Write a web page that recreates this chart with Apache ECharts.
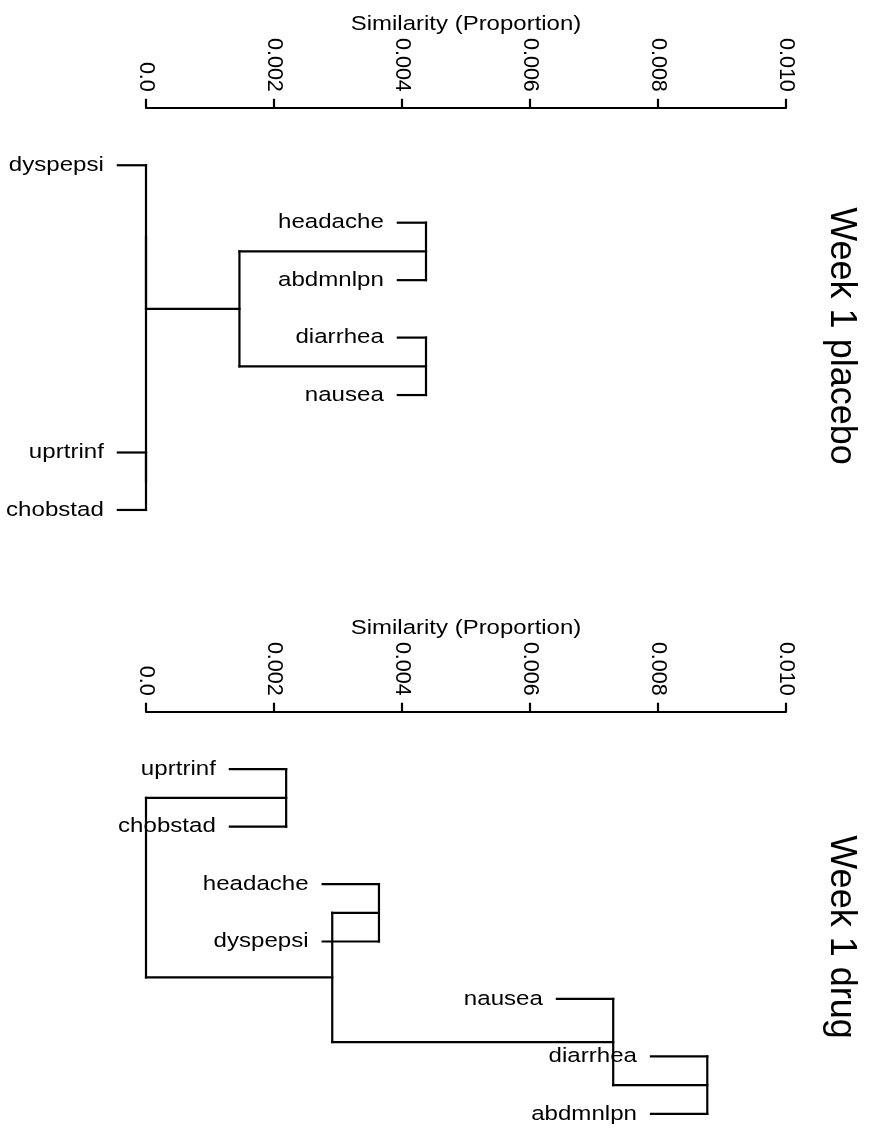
<!DOCTYPE html>
<html><head><meta charset="utf-8">
<script src="https://cdn.jsdelivr.net/npm/echarts@6/dist/echarts.min.js"></script>
<style>html,body{margin:0;padding:0;background:#fff}#c{width:872px;height:1132px}</style>
</head><body><div id="c"></div>
<script>
// ---- data ----
const tickValues = [0, 0.002, 0.004, 0.006, 0.008, 0.010];
const tickLabels = ['0.0', '0.002', '0.004', '0.006', '0.008', '0.010'];
const axisTitle = 'Similarity (Proportion)';
const placeboTitle = 'Week 1 placebo';
const drugTitle = 'Week 1 drug';

// leaf order top -> bottom
const placeboLeaves = ['dyspepsi', 'headache', 'abdmnlpn', 'diarrhea', 'nausea', 'uprtrinf', 'chobstad'];
// merges: [childA, childB, height]; string = leaf, number = index of an earlier merge
const placeboMerges = [
  ['headache', 'abdmnlpn', 0.004375],
  ['diarrhea', 'nausea', 0.004375],
  [0, 1, 0.00146],
  ['uprtrinf', 'chobstad', 0],
  ['dyspepsi', 2, 0],
  [4, 3, 0]
];
const placeboHang = 0.00044;

const drugLeaves = ['uprtrinf', 'chobstad', 'headache', 'dyspepsi', 'nausea', 'diarrhea', 'abdmnlpn'];
const drugMerges = [
  ['uprtrinf', 'chobstad', 0.00219],
  ['headache', 'dyspepsi', 0.00364],
  ['diarrhea', 'abdmnlpn', 0.00877],
  ['nausea', 2, 0.0073],
  [1, 3, 0.00291],
  [0, 4, 0]
];
const drugHang = 0.00088;

// ---- dendrogram layout (segments in data units) ----
function layout(leaves, merges, hang) {
  const segs = [], labels = [], names = [], nodeY = [];
  const posOf = c => typeof c === 'string' ? leaves.indexOf(c) + 1 : nodeY[c];
  merges.forEach((m, i) => {
    const [a, b, h] = m;
    const ya = posOf(a), yb = posOf(b);
    nodeY[i] = (ya + yb) / 2;
    segs.push([h, ya, h, yb]);
    [a, b].forEach(c => {
      const yc = posOf(c);
      if (typeof c === 'string') {
        segs.push([h, yc, h - hang, yc]);
        labels.push([h - hang, yc]);
        names.push(c);
      } else {
        segs.push([h, yc, merges[c][2], yc]);
      }
    });
  });
  return { segs, labels, names };
}

const P = layout(placeboLeaves, placeboMerges, placeboHang);
const D = layout(drugLeaves, drugMerges, drugHang);
const FONT = '"Liberation Sans", Arial, Helvetica, sans-serif';
const GRID_TOPS = [107.8, 711.7];
const SPACING = 57.45;
const LW = 2.2;

function xAxisCfg(gridIndex) {
  return {
    gridIndex, type: 'value', position: 'top',
    min: tickValues[0], max: tickValues[tickValues.length - 1], interval: 0.002,
    axisLine: { show: true, onZero: false, lineStyle: { color: '#000', width: LW } },
    axisTick: { show: true, length: 9, lineStyle: { color: '#000', width: LW } },
    axisLabel: {
      show: true, rotate: 90, margin: 16, fontSize: 21.5, fontFamily: FONT, color: '#000',
      showMinLabel: true, showMaxLabel: true, hideOverlap: false,
      formatter: v => { const i = tickValues.findIndex(t => Math.abs(t - v) < 1e-9); return i >= 0 ? tickLabels[i] : ''; }
    },
    splitLine: { show: false }
  };
}
function yAxisCfg(gridIndex) {
  return { gridIndex, type: 'value', min: 0, max: 7.5, inverse: true, show: false };
}
function segSeries(idx, segs) {
  return {
    type: 'custom', xAxisIndex: idx, yAxisIndex: idx, clip: false, silent: true, animation: false,
    dimensions: ['x1', 'y1', 'x2', 'y2'], encode: { x: [0, 2], y: [1, 3] }, data: segs,
    renderItem: (params, api) => {
      const a = api.coord([api.value(0), api.value(1)]);
      const b = api.coord([api.value(2), api.value(3)]);
      return { type: 'line', shape: { x1: a[0], y1: a[1], x2: b[0], y2: b[1] },
        style: { stroke: '#000', lineWidth: LW, lineCap: 'square' } };
    }
  };
}
function labelSeries(idx, L) {
  return {
    type: 'custom', xAxisIndex: idx, yAxisIndex: idx, clip: false, silent: true, animation: false,
    dimensions: ['x', 'y'], encode: { x: 0, y: 1 }, data: L.labels,
    renderItem: (params, api) => {
      const p = api.coord([api.value(0), api.value(1)]);
      return { type: 'text', x: p[0] - 14, y: p[1], scaleX: 1.175,
        style: { text: L.names[params.dataIndex], align: 'right', verticalAlign: 'middle',
          fontSize: 20.5, fontFamily: FONT, fill: '#000' } };
    }
  };
}

const chart = echarts.init(document.getElementById('c'), null, { renderer: 'canvas' });
chart.setOption({
  backgroundColor: '#fff',
  animation: false,
  grid: GRID_TOPS.map(t => ({ left: 146, right: 86, top: t, height: 7.5 * SPACING, containLabel: false, outerBoundsMode: 'none' })),
  xAxis: [xAxisCfg(0), xAxisCfg(1)],
  yAxis: [yAxisCfg(0), yAxisCfg(1)],
  series: [segSeries(0, P.segs), labelSeries(0, P), segSeries(1, D.segs), labelSeries(1, D)],
  graphic: [
    { type: 'text', x: 466, y: GRID_TOPS[0] - 83, scaleX: 1.17, silent: true,
      style: { text: axisTitle, align: 'center', verticalAlign: 'middle', fontSize: 20.5, fontFamily: FONT, fill: '#000' } },
    { type: 'text', x: 466, y: GRID_TOPS[1] - 83, scaleX: 1.17, silent: true,
      style: { text: axisTitle, align: 'center', verticalAlign: 'middle', fontSize: 20.5, fontFamily: FONT, fill: '#000' } },
    { type: 'text', x: 841, y: 336, rotation: -Math.PI / 2, silent: true,
      style: { text: placeboTitle, align: 'center', verticalAlign: 'middle', fontSize: 36, fontFamily: FONT, fill: '#000' } },
    { type: 'text', x: 841, y: 937, rotation: -Math.PI / 2, silent: true,
      style: { text: drugTitle, align: 'center', verticalAlign: 'middle', fontSize: 36, fontFamily: FONT, fill: '#000' } }
  ]
});
</script>
</body></html>
